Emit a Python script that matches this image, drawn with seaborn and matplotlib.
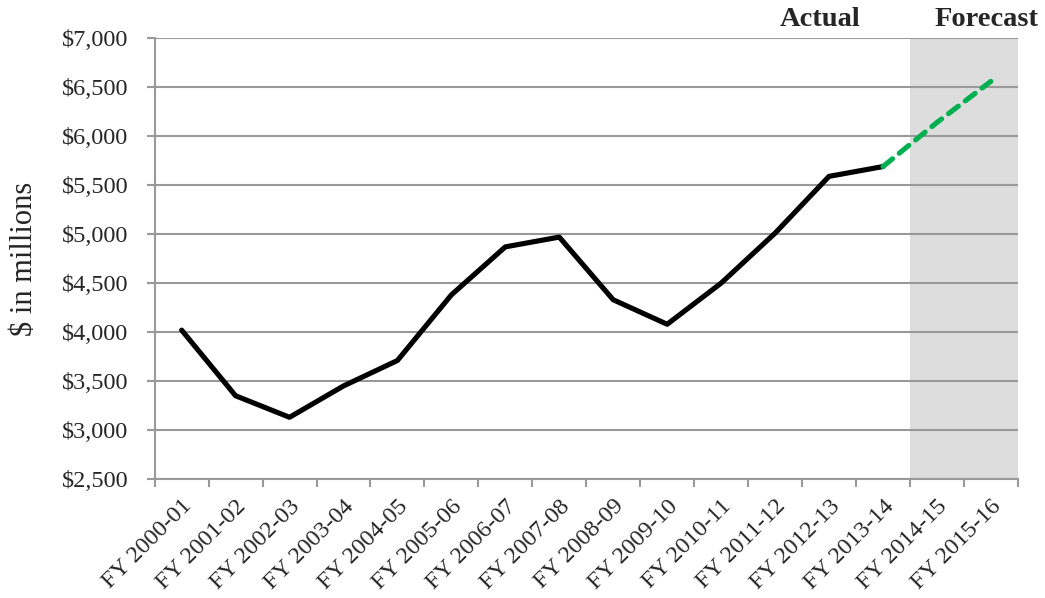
import matplotlib
matplotlib.use("Agg")
import matplotlib.pyplot as plt
import seaborn as sns
from matplotlib.ticker import FuncFormatter, FixedLocator

years = ["FY 2000-01", "FY 2001-02", "FY 2002-03", "FY 2003-04", "FY 2004-05",
         "FY 2005-06", "FY 2006-07", "FY 2007-08", "FY 2008-09", "FY 2009-10",
         "FY 2010-11", "FY 2011-12", "FY 2012-13", "FY 2013-14", "FY 2014-15",
         "FY 2015-16"]
actual = [4020, 3350, 3130, 3450, 3710, 4380, 4870, 4970, 4330, 4080,
          4500, 5010, 5590, 5690]
forecast_years = ["FY 2013-14", "FY 2014-15", "FY 2015-16"]
forecast = [5690, 6140, 6560]

sns.set_style("white")
plt.rcParams['font.family'] = ['Liberation Serif', 'DejaVu Serif']

fig, ax = plt.subplots(figsize=(10.45, 5.98), dpi=100)
fig.subplots_adjust(left=0.148, right=0.974, top=0.936, bottom=0.199)

# register all categories in order
ax.plot(years, [None] * len(years), alpha=0)

ax.axvspan(13.5, 15.5, color="#dddddd", zorder=0, lw=0)

sns.lineplot(x=years[:len(actual)], y=actual, ax=ax, color="black",
             linewidth=3.7, sort=False, zorder=3)
sns.lineplot(x=forecast_years, y=forecast, ax=ax, color="#00b050",
             linewidth=3.7, sort=False, zorder=3, linestyle=(0, (2.4, 1.7)),
             dash_capstyle="round")

ax.set_xlim(-0.5, len(years) - 0.5)
ax.set_ylim(2500, 7000)
ax.set_yticks(range(2500, 7001, 500))
ax.yaxis.set_major_formatter(FuncFormatter(lambda v, p: f"${v:,.0f}"))
ax.yaxis.grid(True, color="#999999", linewidth=1.5, zorder=1)
ax.set_axisbelow(False)

ax.set_xticks(range(len(years)))
ax.set_xticklabels(years, rotation=45, ha="right", rotation_mode="anchor")
ax.xaxis.set_minor_locator(FixedLocator([i - 0.5 for i in range(len(years) + 1)]))
ax.tick_params(axis="x", which="major", length=0, pad=12, labelsize=17.5)
ax.tick_params(axis="x", which="minor", length=6, width=1.5, color="#999999",
               direction="out", bottom=True)
ax.tick_params(axis="y", length=6, width=1.5, color="#999999", direction="out",
               left=True, labelsize=17.5, pad=13)

for side in ["top", "right"]:
    ax.spines[side].set_visible(False)
for side in ["left", "bottom"]:
    ax.spines[side].set_color("#999999")
    ax.spines[side].set_linewidth(1.5)

ax.set_ylabel("$ in millions", fontsize=22, labelpad=16)

ax.text(11.83, 1.015, "Actual", transform=ax.get_xaxis_transform(),
        ha="center", va="bottom", fontsize=20.5, fontweight="bold")
ax.text(14.92, 1.015, "Forecast", transform=ax.get_xaxis_transform(),
        ha="center", va="bottom", fontsize=20.5, fontweight="bold", clip_on=False)

fig.savefig("out.png", dpi=100)
